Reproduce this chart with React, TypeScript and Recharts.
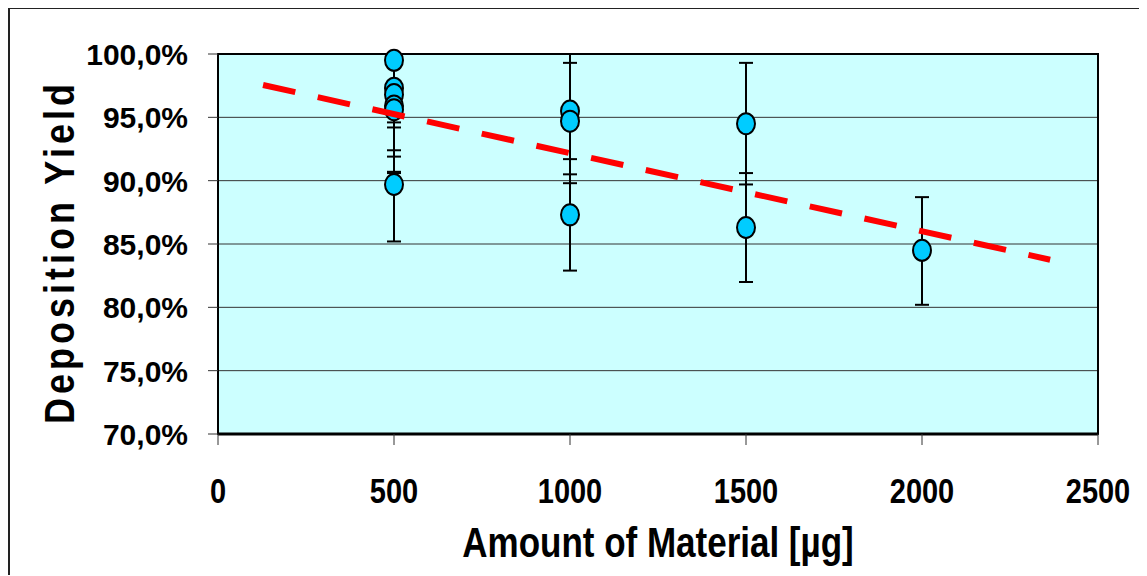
import React from 'react';
import {
  ScatterChart,
  Scatter,
  XAxis,
  YAxis,
  CartesianGrid,
  ErrorBar,
  ReferenceArea,
} from 'recharts';

// Measured data (amount of material in µg, deposition yield in %)
const amountUg = [500, 500, 500, 500, 500, 500, 1000, 1000, 1000, 1500, 1500, 2000];
const yieldPct = [99.5, 97.3, 96.8, 95.9, 95.6, 89.7, 95.5, 94.7, 87.3, 94.5, 86.3, 84.5];
const errLow = [4.9, 4.9, 4.9, 5.2, 5.0, 4.5, 5.0, 4.9, 4.4, 4.8, 4.3, 4.3];
const errHigh = [0.5, 2.7, 3.2, 4.1, 4.4, 4.5, 4.5, 4.6, 4.4, 4.8, 4.3, 4.2];

// Linear trend line end points
const trendX = [128, 2364];
const trendY = [97.55, 83.76];

const xTicks = [0, 500, 1000, 1500, 2000, 2500];
const yTicks = [70, 75, 80, 85, 90, 95, 100];

const xTitle = 'Amount of Material [µg]';
const yTitle = 'Deposition Yield';

const points = amountUg.map((x, i) => ({
  x,
  y: yieldPct[i],
  err: [errLow[i], errHigh[i]],
}));
const trend = trendX.map((x, i) => ({ x, y: trendY[i] }));

const FONT = "'Liberation Sans', Arial, sans-serif";

const fmtPct = (v: number) => `${v.toFixed(1).replace('.', ',')}%`;

const YTick = (props: any) => {
  const { x, y, payload } = props;
  return (
    <text
      x={x}
      y={y + 11}
      textAnchor="end"
      fontFamily={FONT}
      fontWeight="bold"
      fontSize={30}
      fill="#000"
    >
      {fmtPct(payload.value)}
    </text>
  );
};

const XTick = (props: any) => {
  const { x, y, payload } = props;
  return (
    <text
      transform={`translate(${x},${y + 56}) scale(1,1.2)`}
      textAnchor="middle"
      fontFamily={FONT}
      fontWeight="bold"
      fontSize={29}
      fill="#000"
    >
      {payload.value}
    </text>
  );
};

const Marker = (props: any) => {
  const { cx, cy } = props;
  if (cx == null || cy == null) return null;
  return (
    <ellipse cx={cx} cy={cy} rx={9} ry={10.5} fill="#00CCFF" stroke="#000" strokeWidth={2} />
  );
};

const NoMarker = () => <g />;

const XTitle = (props: any) => {
  const vb = props.viewBox || {};
  const cx = vb.x + vb.width / 2;
  const by = vb.y + 123;
  return (
    <text
      transform={`translate(${cx},${by}) scale(1,1.23)`}
      textAnchor="middle"
      fontFamily={FONT}
      fontWeight="bold"
      fontSize={35}
      fill="#000"
    >
      {xTitle}
    </text>
  );
};

const YTitle = (props: any) => {
  const vb = props.viewBox || {};
  const cy = vb.y + vb.height / 2 + 8;
  return (
    <text
      transform={`translate(64,${cy}) rotate(-90) scale(1,1.2)`}
      textAnchor="middle"
      fontFamily={FONT}
      fontWeight="bold"
      fontSize={36}
      letterSpacing={4}
      fill="#000"
    >
      {yTitle}
    </text>
  );
};

export default function App() {
  return (
    <div
      style={{
        width: 1139,
        height: 568,
        borderTop: '2px solid #222',
        borderLeft: '2px solid #222',
        boxSizing: 'border-box',
        background: '#fff',
        marginTop: -1,
      }}
    >
      <ScatterChart
        width={1137}
        height={566}
        margin={{ top: 45, right: 49, bottom: 0, left: 0 }}
      >
        <CartesianGrid
          horizontal
          vertical={false}
          fill="#CCFFFF"
          stroke="#333"
          strokeWidth={1}
          strokeOpacity={1}
        />
        <XAxis
          type="number"
          dataKey="x"
          domain={[0, 2500]}
          ticks={xTicks}
          interval={0}
          height={141}
          tickSize={11}
          tick={<XTick />}
          axisLine={{ stroke: '#000', strokeWidth: 3 }}
          tickLine={{ stroke: '#333', strokeWidth: 1 }}
          label={<XTitle />}
        />
        <YAxis
          type="number"
          dataKey="y"
          domain={[70, 100]}
          ticks={yTicks}
          interval={0}
          width={208}
          tickSize={10}
          tickMargin={20}
          tick={<YTick />}
          axisLine={{ stroke: '#000', strokeWidth: 2 }}
          tickLine={{ stroke: '#333', strokeWidth: 1 }}
          label={<YTitle />}
        />
        <ReferenceArea
          x1={0}
          x2={2500}
          y1={70}
          y2={100}
          fill="none"
          stroke="#000"
          strokeWidth={2}
          fillOpacity={0}
        />
        <Scatter data={points} shape={<Marker />} isAnimationActive={false}>
          <ErrorBar dataKey="err" direction="y" width={7} stroke="#000" strokeWidth={2} />
        </Scatter>
        <Scatter
          data={trend}
          shape={<NoMarker />}
          line={{ stroke: '#FF0000', strokeWidth: 6, strokeDasharray: '33 23' }}
          lineType="joint"
          isAnimationActive={false}
        />
      </ScatterChart>
    </div>
  );
}
